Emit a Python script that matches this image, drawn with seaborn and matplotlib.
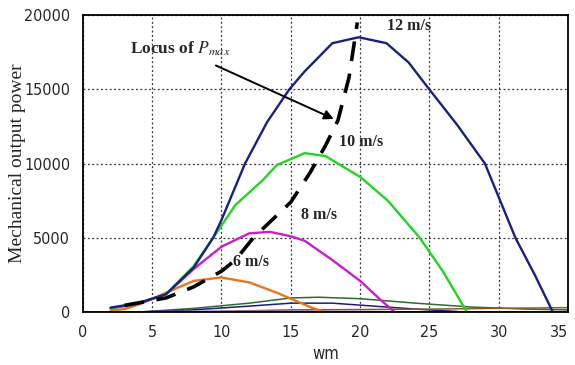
import matplotlib
matplotlib.use("Agg")
import matplotlib.pyplot as plt
import seaborn as sns

# Rotor speed (wm) and mechanical output power for each wind speed
wm_12 = [2, 4, 6, 8, 9.4, 10, 11.7, 13.3, 14.9, 16.0, 18.0, 19.9, 21.9, 23.5, 24.9, 27.0, 29.0, 31.2, 32.6, 33.9]
p_12 = [300, 600, 1200, 3000, 5000, 6200, 10000, 12800, 15000, 16200, 18100, 18500, 18100, 16800, 15100, 12600, 10000, 5000, 2500, 0]

wm_10 = [2, 4, 6, 8, 9.4, 11, 13, 14, 16, 17.5, 20, 22, 24.3, 26, 27.7]
p_10 = [250, 600, 1200, 3100, 5000, 7200, 8900, 9900, 10700, 10500, 9100, 7500, 5000, 2700, 0]

wm_8 = [2, 4, 6, 8, 10, 12, 13.5, 15, 16, 18, 20, 21.5, 22.5]
p_8 = [250, 550, 1200, 2900, 4400, 5300, 5400, 5100, 4800, 3500, 2100, 800, 0]

wm_6 = [2, 3, 4, 6, 8, 10, 12, 14, 15, 16.5, 17.5]
p_6 = [100, 200, 500, 1300, 2100, 2330, 2000, 1300, 900, 300, 0]

# Lower wind speeds
wm_low_a = [4, 8, 12, 15, 17, 20, 24, 28, 32, 35]
p_low_a = [0, 250, 600, 950, 1000, 900, 600, 340, 200, 150]
wm_low_b = [4, 8, 12, 15, 18, 21, 24, 27]
p_low_b = [0, 150, 400, 600, 600, 400, 200, 40]
wm_low_c = [8, 15, 20, 25, 30, 35]
p_low_c = [0, 150, 170, 200, 250, 300]
wm_low_d = [5, 10, 15, 20, 23]
p_low_d = [40, 60, 60, 40, 0]
wm_low_e = [0, 2, 10, 20, 35]
p_low_e = [0, 0, 20, 20, 0]

# Locus of maximum power points
wm_locus = [3.0, 6.0, 8.0, 10.0, 11.0, 12.3, 15.0, 16.4, 17.5, 18.4, 19.2, 19.8]
p_locus = [450, 950, 1700, 2750, 3500, 5000, 7400, 9400, 11200, 12900, 15800, 19500]

x_ticks = [0, 5, 10, 15, 20, 25, 30, 35]
y_ticks = [0, 5000, 10000, 15000, 20000]

sns.set_style("white")
plt.rcParams["font.family"] = ["DejaVu Sans"]
plt.rcParams["mathtext.fontset"] = "stix"

fig = plt.figure(figsize=(5.75, 3.65), dpi=100)
ax = fig.add_axes([0.144, 0.145, 0.844, 0.814])

thin = [
    (wm_low_a, p_low_a, "#2f6b2f"),
    (wm_low_b, p_low_b, "#1c1c7a"),
    (wm_low_c, p_low_c, "#8b5a2b"),
    (wm_low_d, p_low_d, "#9a6fd0"),
    (wm_low_e, p_low_e, "#5a0a0a"),
]
for xs, ys, c in thin:
    sns.lineplot(x=xs, y=ys, ax=ax, color=c, linewidth=1.1, sort=False)

thick = [
    (wm_6, p_6, "#e8741c"),
    (wm_8, p_8, "#c81fc8"),
    (wm_10, p_10, "#22d422"),
    (wm_12, p_12, "#1a1f80"),
]
for xs, ys, c in thick:
    sns.lineplot(x=xs, y=ys, ax=ax, color=c, linewidth=1.7, sort=False)

sns.lineplot(x=wm_locus, y=p_locus, ax=ax, color="black", linewidth=2.6, sort=False)
ax.lines[-1].set_dashes((5.5, 3.5))

ax.set_xlim(0, 35)
ax.set_ylim(0, 20000)
ax.set_xticks(x_ticks)
ax.set_yticks(y_ticks)
ax.set_xticklabels([str(v) for v in x_ticks])
ax.set_yticklabels([str(v) for v in y_ticks])
ax.tick_params(length=0)
ax.tick_params(axis="x", pad=9)
ax.tick_params(axis="y", pad=9)
for lbl in ax.get_xticklabels() + ax.get_yticklabels():
    lbl.set_fontstretch("condensed")
    lbl.set_fontsize(11.5)
ax.get_xticklabels()[-1].set_horizontalalignment("right")

ax.grid(True, color="#333333", linestyle=(0, (1.5, 2)), linewidth=0.9)
for s in ax.spines.values():
    s.set_color("black")
    s.set_linewidth(1.3)

ax.set_xlabel("wm", fontsize=12, fontstretch="condensed", labelpad=4)
ax.set_ylabel("Mechanical output power", fontsize=14, family="Liberation Serif")
ax.yaxis.set_label_coords(-0.118, 0.5)

serif = dict(family="Liberation Serif", fontweight="bold", fontsize=11.5)
ax.text(23.5, 18700, "12 m/s", ha="center", va="bottom", **serif)
ax.text(20.1, 10900, "10 m/s", ha="center", va="bottom", **serif)
ax.text(17.0, 6000, "8 m/s", ha="center", va="bottom", **serif)
ax.text(12.1, 2800, "6 m/s", ha="center", va="bottom", **serif)

ax.annotate("Locus of $\\mathit{P_{max}}$", xy=(18.1, 13000), xytext=(7.0, 17750),
            ha="center", va="center", family="Liberation Serif", fontweight="bold",
            fontsize=12.5)
ax.annotate("", xy=(18.1, 13000), xytext=(9.6, 16600),
            arrowprops=dict(arrowstyle="-|>", color="black", lw=1.4,
                            mutation_scale=14, shrinkA=0, shrinkB=0))

fig.savefig("out.png", dpi=100)
